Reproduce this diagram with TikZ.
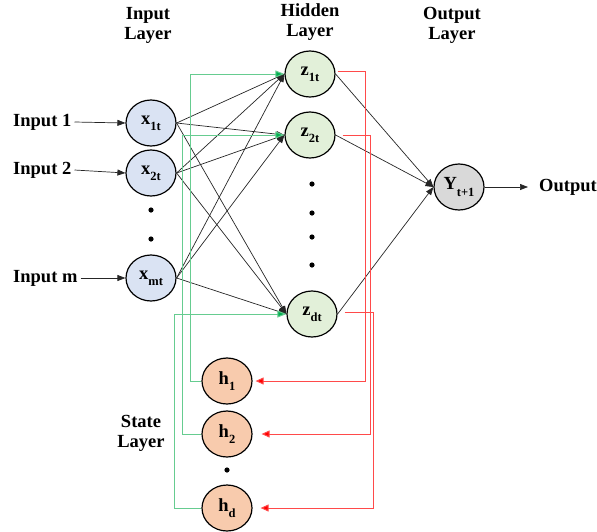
\documentclass[tikz,border=0pt]{standalone}
\usepackage{fontspec}
\setmainfont{Liberation Serif}
\usetikzlibrary{shapes.geometric,arrows.meta}
\definecolor{inblue}{HTML}{DAE3F3}
\definecolor{hidgreen}{HTML}{E2F0D9}
\definecolor{outgray}{HTML}{D9D9D9}
\definecolor{statepeach}{HTML}{F8CBAD}
\definecolor{lgreen}{HTML}{66CC90}
\definecolor{dgreen}{HTML}{00B050}
\definecolor{lred}{HTML}{FF4A4A}
\newcommand{\bigfnt}{\fontsize{18.5}{20}\selectfont\bfseries}
\newcommand{\nsub}[2]{#1\raisebox{-0.75ex}{\fontsize{12.5}{12}\selectfont #2}}
\begin{document}
\begin{tikzpicture}[x=1pt,y=-1pt,
  neuron/.style={ellipse,draw=black,line width=1.2pt,minimum width=50pt,minimum height=46pt,inner sep=0pt,font=\bigfnt},
  innode/.style={neuron,fill=inblue},
  hidnode/.style={neuron,fill=hidgreen},
  outnode/.style={neuron,fill=outgray},
  statenode/.style={neuron,fill=statepeach},
  lbl/.style={font=\bigfnt,align=center,inner sep=0pt},
  conn/.style={draw=black!85,line width=0.7pt,-{Triangle[length=8pt,width=6pt]}},
  fb/.style={draw=lgreen,line width=1pt,-{Triangle[length=9pt,width=7pt,fill=dgreen]}},
  rb/.style={draw=lred,line width=1pt,-{Triangle[length=8pt,width=7pt,fill=red]},shorten >=3pt},
  dotm/.style={fill=black}]
\useasboundingbox (0,0) rectangle (597,531);

% layer labels
\node[lbl] (linp) at (148,25) {Input\\Layer};
\node[lbl] (lhid) at (310,22) {Hidden\\Layer};
\node[lbl] (lout) at (452,25) {Output\\Layer};
\node[lbl] (lsta) at (141,433) {State\\Layer};

% input nodes
\node[innode] (x1) at (151,123) {\nsub{x}{1t}};
\node[innode] (x2) at (151,173) {\nsub{x}{2t}};
\node[innode] (xm) at (151,278) {\nsub{x}{mt}};
\fill[dotm] (151,210) circle (2.6pt);
\fill[dotm] (151,239) circle (2.6pt);

% hidden nodes
\node[hidnode] (z1) at (310,74) {\nsub{z}{1t}};
\node[hidnode] (z2) at (310,135) {\nsub{z}{2t}};
\node[hidnode] (zd) at (312,314) {\nsub{z}{dt}};
\fill[dotm] (312,184) circle (2.6pt);
\fill[dotm] (312,213) circle (2.6pt);
\fill[dotm] (312,237) circle (2.6pt);
\fill[dotm] (312,265) circle (2.6pt);

% output node
\node[outnode] (y) at (459,187) {\nsub{Y}{t+1}};

% state nodes
\node[statenode] (h1) at (227,381) {\nsub{h}{1}};
\node[statenode] (h2) at (227,434) {\nsub{h}{2}};
\node[statenode] (hd) at (227,508) {\nsub{h}{d}};
\fill[dotm] (227,470) circle (2.6pt);

% input labels
\node[lbl,anchor=west] (i1) at (13,122) {Input 1};
\node[lbl,anchor=west] (i2) at (13,170) {Input 2};
\node[lbl,anchor=west] (im) at (13,278) {Input m};
\node[lbl,anchor=west] (o) at (539,187) {Output};
\coordinate (oend) at (528,187);

\draw[conn] (i1.east) ++(3,0) -- (x1.west);
\draw[conn] (i2.east) ++(3,0) -- (x2.west);
\draw[conn] (im.east) ++(3,0) -- (xm.west);
\draw[conn] (y.east) -- (oend);

% input to hidden
\foreach \a in {x1,x2,xm}{
  \foreach \b in {z1,z2,zd}{
    \draw[conn] (\a.east) -- (\b.west);
  }
}
% hidden to output
\foreach \b in {z1,z2,zd}{
  \draw[conn] (\b.east) -- (y.west);
}

% feedback green: state -> hidden
\draw[fb] (h1.west) -- ++(-11,0) |- (z1.west);
\draw[fb] (h2.west) -- ++(-19,0) |- (z2.west);
\draw[fb] (hd.west) -- ++(-27,0) |- (zd.west);

% red: hidden -> state
\draw[rb] ([xshift=2pt,yshift=3pt]z1.east) -- ++(28,0) |- (h1.east);
\draw[rb] ([xshift=7pt]z2.east) -- ++(28,0) |- ([xshift=6pt]h2.east);
\draw[rb] ([xshift=7pt,yshift=2pt]zd.east) -- ++(29,0) |- ([xshift=5pt]hd.east);
\end{tikzpicture}
\end{document}
